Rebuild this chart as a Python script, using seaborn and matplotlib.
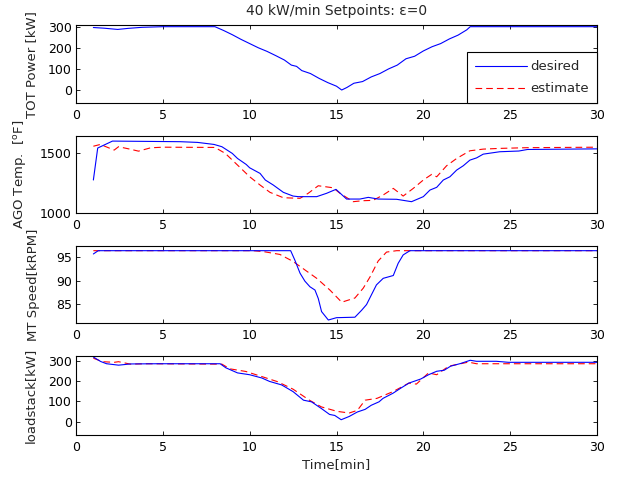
import matplotlib
matplotlib.use("Agg")
import matplotlib.pyplot as plt
import seaborn as sns
import pandas as pd

# ---------------- data ----------------
tot_t = [1.0, 1.6, 2.4, 3.0, 3.8, 5.0, 8.0, 8.5, 9.0, 9.5, 10.0, 10.5, 11.0, 11.5, 12.0,
         12.4, 12.7, 13.0, 13.5, 14.0, 14.5, 15.0, 15.3, 15.6, 16.0, 16.5, 17.0, 17.5,
         18.0, 18.5, 19.0, 19.5, 20.0, 20.5, 21.0, 21.5, 22.0, 22.5, 22.7, 30.0]
tot_desired = [296, 293, 287, 292, 297, 300, 300, 282, 262, 240, 220, 200, 183, 163, 142,
               118, 112, 92, 78, 55, 35, 18, 0, 12, 32, 40, 62, 78,
               100, 118, 148, 160, 185, 205, 220, 242, 260, 285, 300, 300]

ago_t_des = [1.0, 1.25, 2.1, 6.0, 7.0, 7.95, 8.4, 9.0, 9.3, 9.8, 10.0, 10.6, 10.9, 11.36,
             11.94, 12.5, 12.8, 13.86, 14.43, 14.97, 15.58, 16.35, 16.83, 17.4, 18.46,
             19.32, 20.0, 20.38, 20.77, 21.15, 21.53, 21.92, 22.3, 22.68, 23.07, 23.45,
             24.4, 25.5, 26.0, 30.0]
ago_desired = [1278, 1545, 1603, 1598, 1592, 1575, 1556, 1500, 1458, 1408, 1380, 1333, 1278, 1236,
               1175, 1144, 1139, 1139, 1167, 1200, 1119, 1119, 1133, 1119, 1117,
               1097, 1139, 1194, 1217, 1278, 1305, 1361, 1397, 1444, 1463, 1494,
               1514, 1520, 1533, 1538]
ago_t_est = [1.0, 1.4, 2.2, 2.45, 3.1, 3.6, 4.3, 5.0, 8.0, 8.6, 9.5, 10.0, 10.6, 11.17,
             11.94, 12.9, 13.37, 13.95, 14.81, 15.2, 15.96, 16.5, 17.1, 17.69, 18.27,
             18.84, 19.42, 20.0, 20.48, 20.77, 21.34, 21.92, 22.68, 23.45, 24.4, 26.0, 30.0]
ago_estimate = [1560, 1575, 1528, 1556, 1536, 1519, 1547, 1552, 1550, 1500, 1375, 1305, 1236, 1175,
                1130, 1125, 1167, 1230, 1213, 1167, 1097, 1105, 1108, 1153, 1208,
                1144, 1208, 1278, 1325, 1305, 1397, 1458, 1522, 1536, 1542, 1548, 1552]

mt_t_des = [1.0, 1.28, 12.36, 12.6, 12.9, 13.18, 13.47, 13.76, 13.95, 14.14, 14.53, 15.0,
            16.06, 16.45, 16.73, 17.0, 17.3, 17.69, 18.27, 18.55, 18.84, 19.23, 30.0]
mt_desired = [95.7, 96.4, 96.4, 94.4, 91.6, 89.9, 88.7, 88.0, 86.2, 83.4, 81.6, 82.1,
              82.2, 83.7, 84.9, 86.9, 89.1, 90.5, 91.1, 93.7, 95.5, 96.4, 96.4]
mt_t_est = [1.0, 10.2, 10.8, 11.74, 12.5, 13.18, 13.86, 14.62, 15.3, 16.06, 16.54, 16.93,
            17.4, 17.88, 18.46, 30.0]
mt_estimate = [96.4, 96.4, 96.2, 95.6, 94.1, 92.3, 90.5, 88.0, 85.4, 86.3, 88.4, 90.8,
               94.2, 96.1, 96.4, 96.4]

ls_t_des = [1.0, 1.42, 1.76, 2.45, 3.14, 4.7, 8.3, 8.63, 9.3, 10.0, 10.7, 11.15, 11.84,
            12.5, 13.1, 13.56, 14.13, 14.6, 14.9, 15.27, 15.73, 16.2, 16.65, 17.0, 17.45,
            17.68, 18.25, 18.7, 19.17, 19.85, 20.3, 20.77, 21.2, 21.57, 22.14, 22.7,
            23.06, 24.2, 24.9, 30.0]
ls_desired = [318, 296, 285, 278, 284, 285, 285, 265, 240, 231, 215, 198, 181,
              148, 106, 98, 65, 36, 31, 10, 26, 48, 61, 81, 98,
              115, 140, 165, 190, 210, 231, 248, 253, 273, 286, 302,
              297, 297, 292, 292]
ls_t_est = [1.0, 1.53, 2.2, 2.45, 3.14, 4.0, 8.4, 8.86, 9.78, 10.7, 11.6, 12.5, 13.44,
            14.13, 15.04, 15.73, 16.2, 16.65, 17.33, 18.25, 19.17, 19.6, 20.3, 20.77,
            21.46, 22.6, 23.06, 30.0]
ls_estimate = [312, 295, 292, 295, 283, 285, 283, 260, 247, 222, 197, 160, 106,
               73, 51, 43, 56, 106, 115, 148, 190, 185, 240, 231,
               273, 293, 285, 285]

x_ticks = [0, 5, 10, 15, 20, 25, 30]
title = "40 kW/min Setpoints: \u03b5=0"
ylabels = ["TOT Power [kW]", r"AGO Temp.  [$^{\rm o}$F]", "MT Speed[kRPM]", "loadstack[kW]"]
yticks = [[0, 100, 200, 300], [1000, 1500], [85, 90, 95], [0, 100, 200, 300]]
ylims = [(-63, 308), (1000, 1648), (80.9, 97.4), (-65, 323)]
label_x = [-0.073, -0.092, -0.069, -0.076]

# ---------------- style ----------------
sns.set_theme(style="ticks")
plt.rcParams["font.family"] = ["DejaVu Sans"]
plt.rcParams.update({
    "font.size": 9,
    "axes.linewidth": 0.8,
    "axes.edgecolor": "black",
    "xtick.direction": "in",
    "ytick.direction": "in",
    "xtick.top": True,
    "ytick.right": True,
    "xtick.major.size": 3,
    "ytick.major.size": 3,
    "xtick.major.width": 0.6,
    "ytick.major.width": 0.6,
    "xtick.labelsize": 9,
    "ytick.labelsize": 9,
    "xtick.color": "black",
    "ytick.color": "black",
    "lines.scale_dashes": False,
})

fig = plt.figure(figsize=(6.23, 4.83), dpi=100)
W = 623.0
H = 483.0
boxes = [(25, 103.3), (135.7, 213.3), (246, 323.3), (356, 435)]
left, right = 76, 597
axes = []
for top, bot in boxes:
    ax = fig.add_axes([left / W, 1 - bot / H, (right - left) / W, (bot - top) / H])
    axes.append(ax)

blue = "#0000ff"
red = "#ff0000"
dash = (0, (4.8, 2.9))

def draw(ax, t, v, color, ls, label):
    df = pd.DataFrame({"t": t, "v": v})
    sns.lineplot(data=df, x="t", y="v", ax=ax, color=color, linestyle=ls, lw=0.8,
                 sort=False, estimator=None, label=label, legend=False)

draw(axes[0], tot_t, tot_desired, blue, "-", "desired")
draw(axes[1], ago_t_est, ago_estimate, red, dash, "estimate")
draw(axes[1], ago_t_des, ago_desired, blue, "-", "desired")
draw(axes[2], mt_t_est, mt_estimate, red, dash, "estimate")
draw(axes[2], mt_t_des, mt_desired, blue, "-", "desired")
draw(axes[3], ls_t_est, ls_estimate, red, dash, "estimate")
draw(axes[3], ls_t_des, ls_desired, blue, "-", "desired")

for i, ax in enumerate(axes):
    ax.set_xlim(0, 30)
    ax.set_xticks(x_ticks)
    ax.set_ylim(*ylims[i])
    ax.set_yticks(yticks[i])
    ax.set_xlabel("")
    ax.set_ylabel(ylabels[i], fontsize=9.5)
    ax.yaxis.set_label_coords(label_x[i], 0.5)
    ax.tick_params(axis="x", pad=4)
    ax.tick_params(axis="y", pad=3)
    for s in ax.spines.values():
        s.set_visible(True)
        s.set_color("black")

axes[0].set_title(title, fontsize=10, pad=7)
axes[3].set_xlabel("Time[min]", fontsize=9.5, labelpad=3)

h_des = axes[1].lines[1]
h_est = axes[1].lines[0]
leg = axes[0].legend([h_des, h_est], ["desired", "estimate"], loc="lower right",
                     bbox_to_anchor=(1, 0), borderaxespad=0, fancybox=False,
                     edgecolor="black", framealpha=1, fontsize=9.5,
                     handlelength=3.9, handletextpad=0.3, labelspacing=0.7,
                     borderpad=0.6)
leg.get_frame().set_linewidth(0.8)

fig.savefig("out.png", dpi=100)
